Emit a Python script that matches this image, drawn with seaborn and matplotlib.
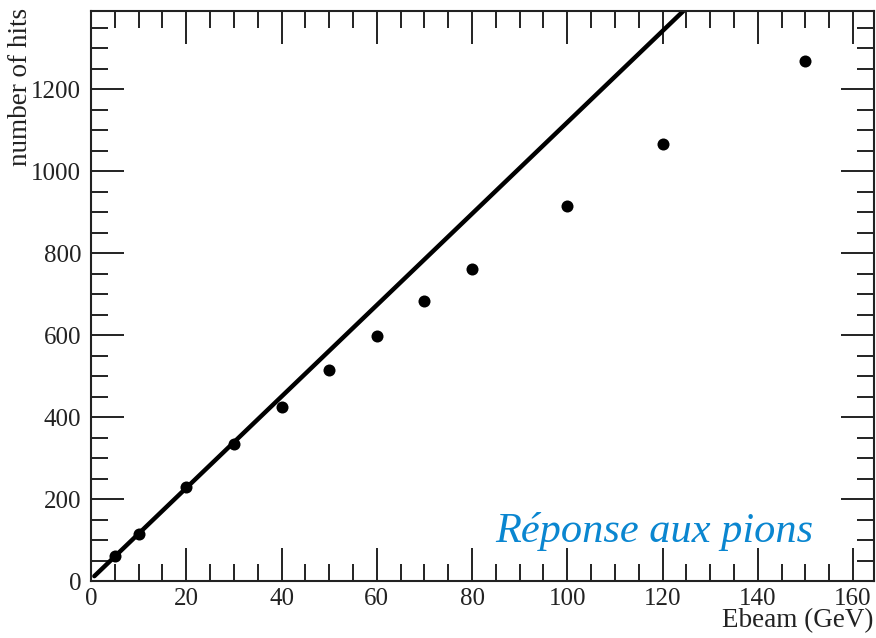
import numpy as np
import pandas as pd
import matplotlib
matplotlib.use("Agg")
import matplotlib.pyplot as plt
from matplotlib.ticker import MultipleLocator
import seaborn as sns

# Data
ebeam = [5, 10, 20, 30, 40, 50, 60, 70, 80, 100, 120, 150]
nhits = [60, 115, 230, 335, 425, 515, 597, 683, 762, 915, 1067, 1270]
fit_slope = 11.15
fit_intercept = 4.0
fit_range = [0.7, 130.0]
xlabel = "Ebeam (GeV)"
ylabel = "number of hits"
annotation = "Réponse aux pions"

sns.set_theme(style="white")
plt.rcParams['font.family'] = ['Liberation Serif', 'DejaVu Serif']

fig = plt.figure(figsize=(8.76, 6.38), dpi=100)
ax = fig.add_axes([91/876, 57/638, 783/876, 570.5/638])

df = pd.DataFrame({"x": ebeam, "y": nhits})
fit_x = np.array(fit_range)
fit_df = pd.DataFrame({"x": fit_x, "y": fit_slope * fit_x + fit_intercept})

sns.lineplot(data=fit_df, x="x", y="y", ax=ax, color="black", linewidth=3.2, zorder=2)
sns.scatterplot(data=df, x="x", y="y", ax=ax, color="black", s=75, edgecolor="black",
                linewidth=0, zorder=3)

ax.set_xlim(0, 164.4)
ax.set_ylim(0, 1392)
ax.xaxis.set_major_locator(MultipleLocator(20))
ax.xaxis.set_minor_locator(MultipleLocator(5))
ax.yaxis.set_major_locator(MultipleLocator(200))
ax.yaxis.set_minor_locator(MultipleLocator(50))
ax.tick_params(which="both", direction="in", top=True, right=True, bottom=True, left=True,
               colors="#222222", labelcolor="#222222", labelsize=18, width=1.4)
ax.tick_params(which="major", length=24)
ax.tick_params(axis="y", which="major", pad=7)
ax.tick_params(axis="x", which="major", pad=5)
ax.tick_params(which="minor", length=12)
for s in ax.spines.values():
    s.set_linewidth(1.5)
    s.set_color("#222222")

ax.set_xlabel("")
ax.set_ylabel("")
fig.text(874/876, 5/638, xlabel, ha="right", va="bottom", fontsize=19.5, color="#222222")
fig.text(21/876, 1 - 8/638, ylabel, ha="center", va="top", rotation=90, fontsize=19.5, color="#222222")

ax.text(0.922, 0.069, annotation, transform=ax.transAxes, ha="right", va="baseline",
        fontsize=30.5, style="italic", color="#0a86d0")

fig.savefig("out.png", dpi=100)
